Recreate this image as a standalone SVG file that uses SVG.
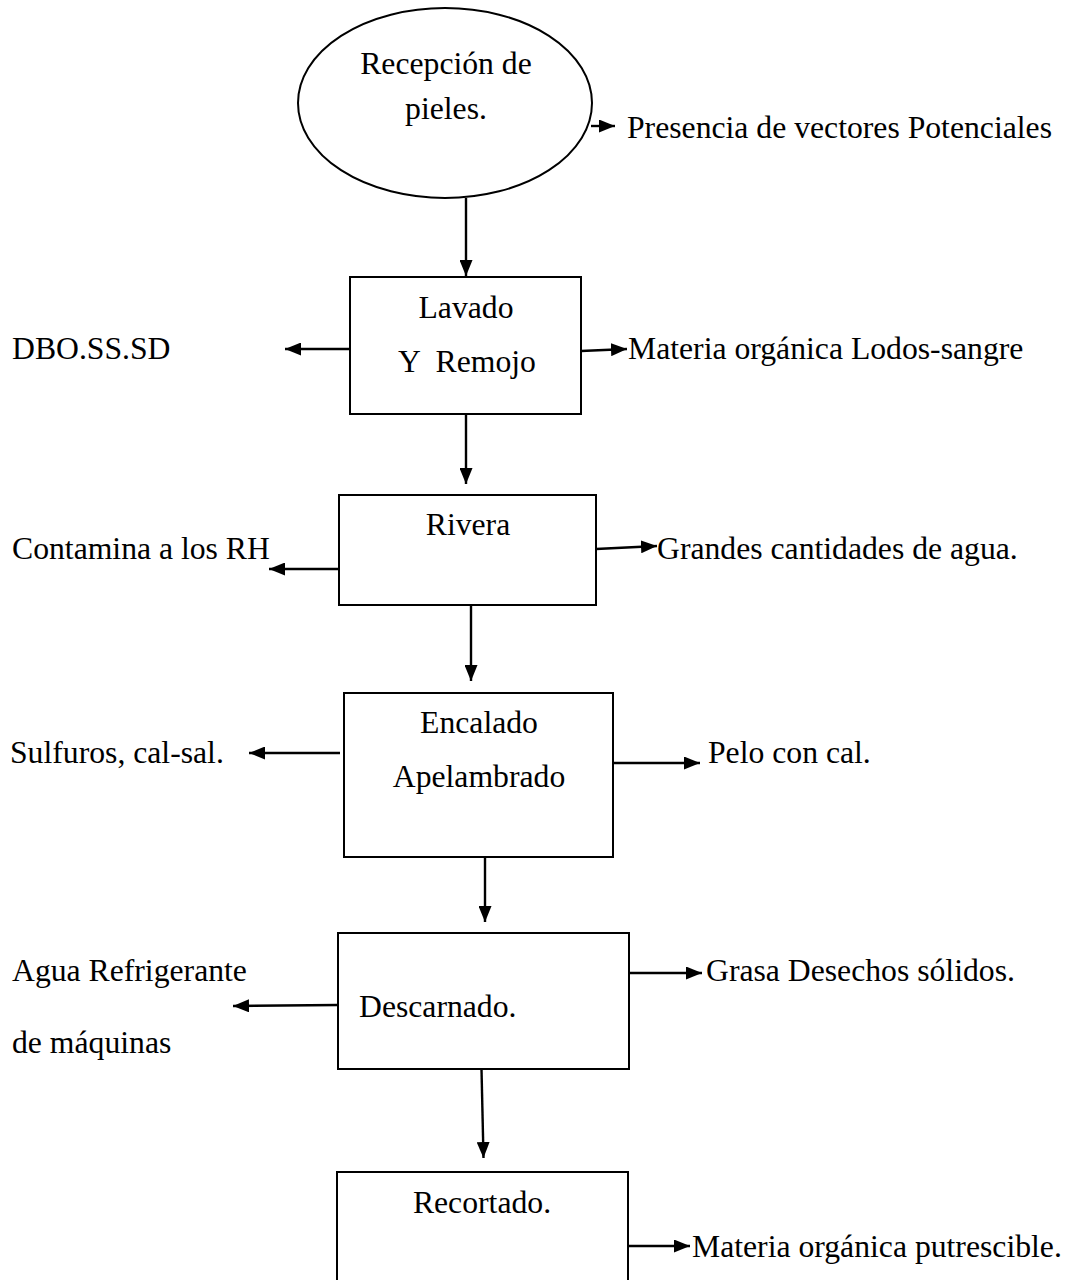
<svg xmlns="http://www.w3.org/2000/svg" width="1075" height="1280" viewBox="0 0 1075 1280">
<style>
  .shape { fill: #ffffff; stroke: #000000; stroke-width: 2; }
  .conn { fill: none; stroke: #000000; stroke-width: 2.4; }
  text { font-family: "Liberation Serif", "Times New Roman", serif; font-size: 31.7px; fill: #000000; white-space: pre; }
  .c { text-anchor: middle; }
</style>
<defs>
  <marker id="ah" markerUnits="userSpaceOnUse" markerWidth="17" markerHeight="13" refX="16" refY="6.5" orient="auto">
    <path d="M0,0 L16,6.5 L0,13 Z" fill="#000000"/>
  </marker>
</defs>
<rect width="1075" height="1280" fill="#ffffff"/>

<g id="recepcion">
  <ellipse class="shape" cx="445" cy="103" rx="147" ry="95"/>
  <text class="c" x="446" y="74">Recepción de</text>
  <text class="c" x="446" y="119">pieles.</text>
</g>

<g id="lavado">
  <rect class="shape" x="350" y="277" width="231" height="137"/>
  <text class="c" x="466" y="318">Lavado</text>
  <text class="c" x="467" y="372">Y  Remojo</text>
</g>

<g id="rivera">
  <rect class="shape" x="339" y="495" width="257" height="110"/>
  <text class="c" x="468" y="535">Rivera</text>
</g>

<g id="encalado">
  <rect class="shape" x="344" y="693" width="269" height="164"/>
  <text class="c" x="479" y="733">Encalado</text>
  <text class="c" x="479" y="787">Apelambrado</text>
</g>

<g id="descarnado">
  <rect class="shape" x="338" y="933" width="291" height="136"/>
  <text x="359" y="1017">Descarnado.</text>
</g>

<g id="recortado">
  <rect class="shape" x="337" y="1172" width="291" height="130"/>
  <text class="c" x="482" y="1213">Recortado.</text>
</g>

<g id="labels">
  <text x="627" y="138">Presencia de vectores Potenciales</text>
  <text x="12" y="359">DBO.SS.SD</text>
  <text x="628" y="359">Materia orgánica Lodos-sangre</text>
  <text x="12" y="559">Contamina a los RH</text>
  <text x="657" y="559">Grandes cantidades de agua.</text>
  <text x="10" y="763">Sulfuros, cal-sal.</text>
  <text x="708" y="763">Pelo con cal.</text>
  <text x="12" y="981">Agua Refrigerante</text>
  <text x="12" y="1053">de máquinas</text>
  <text x="706" y="981">Grasa Desechos sólidos.</text>
  <text x="692" y="1257">Materia orgánica putrescible.</text>
</g>

<g id="connectors">
  <line class="conn" x1="591" y1="126" x2="615" y2="126" marker-end="url(#ah)"/>
  <line class="conn" x1="466" y1="198" x2="466" y2="276" marker-end="url(#ah)"/>
  <line class="conn" x1="350" y1="349" x2="285" y2="349" marker-end="url(#ah)"/>
  <line class="conn" x1="581" y1="351" x2="627" y2="349" marker-end="url(#ah)"/>
  <line class="conn" x1="466" y1="414" x2="466" y2="484" marker-end="url(#ah)"/>
  <line class="conn" x1="339" y1="569" x2="269" y2="569" marker-end="url(#ah)"/>
  <line class="conn" x1="596" y1="549" x2="657" y2="546" marker-end="url(#ah)"/>
  <line class="conn" x1="471" y1="605" x2="471" y2="681" marker-end="url(#ah)"/>
  <line class="conn" x1="340" y1="753" x2="249" y2="753" marker-end="url(#ah)"/>
  <line class="conn" x1="613" y1="763" x2="700" y2="763" marker-end="url(#ah)"/>
  <line class="conn" x1="485" y1="857" x2="485" y2="922" marker-end="url(#ah)"/>
  <line class="conn" x1="338" y1="1005" x2="233" y2="1006" marker-end="url(#ah)"/>
  <line class="conn" x1="629" y1="973" x2="702" y2="973" marker-end="url(#ah)"/>
  <line class="conn" x1="481.5" y1="1069" x2="483.5" y2="1158" marker-end="url(#ah)"/>
  <line class="conn" x1="628" y1="1246" x2="690" y2="1246" marker-end="url(#ah)"/>
</g>
</svg>
